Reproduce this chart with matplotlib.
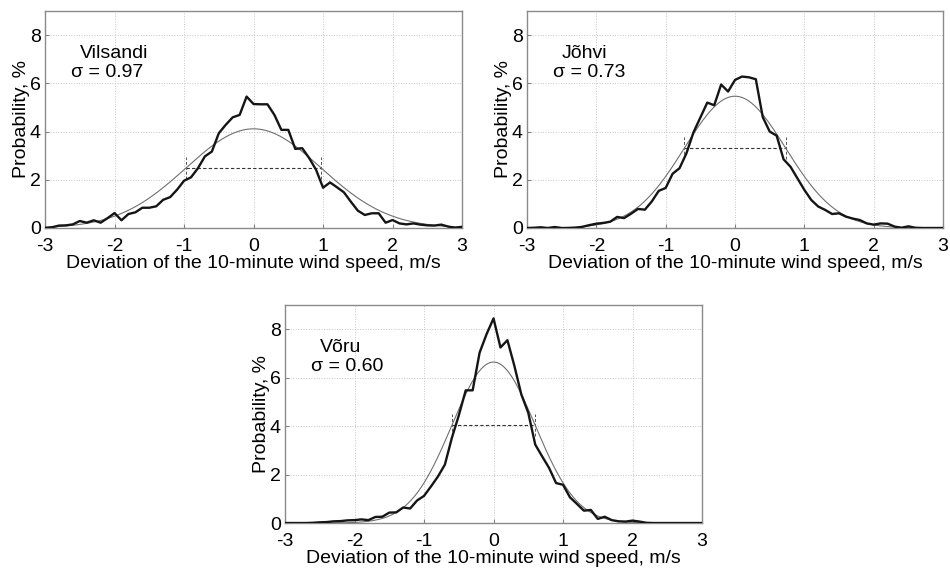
import matplotlib
matplotlib.use("Agg")
import matplotlib.pyplot as plt
import numpy as np

plt.rcParams['font.family'] = ['Liberation Sans', 'DejaVu Sans']

# bin centres of the deviation histogram, m/s
deviation = np.linspace(-3, 3, 61)

stations = ["Vilsandi", "Jõhvi", "Võru"]
sigmas = [0.97, 0.73, 0.60]

prob_vilsandi = [0.0, 0.03, 0.1, 0.11, 0.15, 0.29, 0.22, 0.32, 0.22, 0.41,
                 0.62, 0.32, 0.58, 0.65, 0.84, 0.84, 0.9, 1.17, 1.28, 1.59,
                 1.96, 2.1, 2.48, 2.97, 3.17, 3.93, 4.28, 4.59, 4.69, 5.45,
                 5.14,
                 5.13, 5.13, 4.69, 4.07, 4.07, 3.28, 3.31, 2.9, 2.41, 1.67,
                 1.89, 1.69, 1.48, 1.09, 0.72, 0.54, 0.61, 0.61, 0.22, 0.33,
                 0.19, 0.15, 0.19, 0.14, 0.11, 0.1, 0.14, 0.06, 0.01, 0.05]
prob_johvi = [0.0, 0.01, 0.03, 0.0, 0.04, 0.0, 0.0, 0.01, 0.05, 0.12,
              0.18, 0.21, 0.26, 0.46, 0.41, 0.59, 0.79, 0.76, 1.1, 1.54,
              1.66, 2.25, 2.48, 3.1, 3.96, 4.58, 5.2, 5.09, 5.95, 5.66,
              6.14,
              6.28, 6.25, 6.17, 4.6, 4.0, 3.83, 2.85, 2.54, 2.06, 1.58,
              1.16, 0.89, 0.75, 0.58, 0.61, 0.47, 0.39, 0.33, 0.19, 0.14,
              0.19, 0.18, 0.06, 0.01, 0.07, 0.01, 0.0, 0.0, 0.0, 0.0]
prob_voru = [0.0, 0.0, 0.0, 0.0, 0.01, 0.03, 0.04, 0.07, 0.08, 0.11,
             0.12, 0.15, 0.12, 0.25, 0.26, 0.43, 0.44, 0.64, 0.6, 0.93,
             1.12, 1.51, 1.92, 2.41, 3.51, 4.44, 5.48, 5.48, 7.04, 7.8,
             8.45,
             7.25, 7.55, 6.49, 5.31, 4.55, 3.24, 2.75, 2.27, 1.65, 1.58,
             1.06, 0.79, 0.51, 0.54, 0.17, 0.26, 0.12, 0.07, 0.06, 0.1,
             0.06, 0.01, 0.0, 0.0, 0.0, 0.0, 0.0, 0.0, 0.0, 0.0]
probs = [prob_vilsandi, prob_johvi, prob_voru]

x_ticks = [-3, -2, -1, 0, 1, 2, 3]
y_ticks = [0, 2, 4, 6, 8]
bin_width = 0.1

fig = plt.figure(figsize=(9.5, 5.69), dpi=100)
# axes rectangles [left, bottom, width, height] in figure fraction
rects = [[0.0474, 0.5993, 0.439, 0.3814],
         [0.5547, 0.5993, 0.438, 0.3814],
         [0.3, 0.0808, 0.439, 0.383]]

for name, sigma, prob, rect in zip(stations, sigmas, probs, rects):
    ax = fig.add_axes(rect)

    # normal fit with the station sigma, scaled to % per bin
    xf = np.linspace(-3, 3, 400)
    fit = 100 * bin_width / (sigma * np.sqrt(2 * np.pi)) * np.exp(-xf ** 2 / (2 * sigma ** 2))
    ax.plot(xf, fit, color="#707070", lw=0.8, zorder=3)
    ax.plot(deviation, prob, color="#151515", lw=1.7, zorder=4)

    # +-sigma marker
    level = 100 * bin_width / (sigma * np.sqrt(2 * np.pi)) * np.exp(-0.5)
    ax.plot([-sigma, sigma], [level, level], color="#333333", lw=0.8,
            ls=(0, (3, 2)), zorder=2)
    for s in (-sigma, sigma):
        ax.plot([s, s], [level - 0.45, level + 0.45], color="#555555", lw=0.7,
                ls=(0, (3, 2)), zorder=2)

    ax.text(-2.5, 7.25, name, fontsize=14, va="center", ha="left")
    ax.text(-2.62, 6.45, "σ = %.2f" % sigma, fontsize=14, va="center", ha="left")

    ax.set_xlim(-3, 3)
    ax.set_ylim(0, 9)
    ax.set_xticks(x_ticks)
    ax.set_yticks(y_ticks)
    ax.set_xticklabels([str(t) for t in x_ticks])
    ax.grid(True, ls=":", color="#c4c4c4", lw=0.7)
    ax.set_axisbelow(True)
    ax.tick_params(direction="in", length=3, color="#808080", labelsize=14)
    ax.tick_params(axis="x", pad=7)
    ax.tick_params(axis="y", pad=3)
    for sp in ax.spines.values():
        sp.set_color("#8a8a8a")
        sp.set_linewidth(1.0)
    ax.set_xlabel("Deviation of the 10-minute wind speed, m/s", fontsize=14, labelpad=0)
    ax.set_ylabel("Probability, %", fontsize=14, labelpad=0)

fig.savefig("out.png", dpi=100)
